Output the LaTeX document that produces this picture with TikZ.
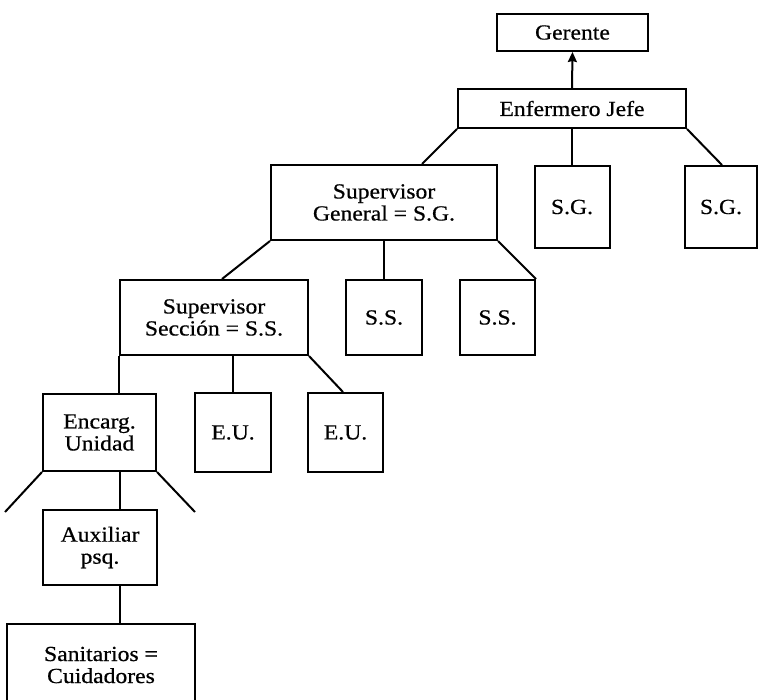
\documentclass[tikz,border=0pt]{standalone}
\usepackage{fontspec}
\setmainfont{Liberation Serif}[FakeStretch=1.1,FakeBold=0.6]
\usetikzlibrary{arrows.meta,calc}
\begin{document}
\begin{tikzpicture}[x=1pt,y=-1pt,
  box/.style={draw,line width=2pt,inner sep=0pt,align=center,
    font=\fontsize{21.5}{22}\selectfont},
  link/.style={line width=2pt}]
\useasboundingbox (0,0) rectangle (760,699);
\node[box,minimum width=151pt,minimum height=37pt] (ger) at (572.5,32.5) {Gerente};
\node[box,minimum width=228pt,minimum height=39pt] (enf) at (572,108.5) {Enfermero Jefe};
\node[box,minimum width=75pt,minimum height=82pt] (sga) at (572,207) {S.G.};
\node[box,minimum width=72pt,minimum height=82pt] (sgb) at (721,207) {S.G.};
\node[box,minimum width=226pt,minimum height=75pt] (supg) at (384,202.5) {Supervisor\\General = S.G.};
\node[box,minimum width=76pt,minimum height=75pt] (ssa) at (384,317.5) {S.S.};
\node[box,minimum width=75pt,minimum height=75pt] (ssb) at (497.5,317.5) {S.S.};
\node[box,minimum width=188pt,minimum height=75pt] (sups) at (214,317.5) {Supervisor\\Sección = S.S.};
\node[box,minimum width=76pt,minimum height=79pt] (eua) at (233,432.5) {E.U.};
\node[box,minimum width=75pt,minimum height=79pt] (eub) at (345.5,432.5) {E.U.};
\node[box,minimum width=113pt,minimum height=77pt] (enc) at (99.5,432.5) {Encarg.\\Unidad};
\node[box,minimum width=114pt,minimum height=75pt] (aux) at (100,547.5) {Auxiliar\\psq.};
\node[box,minimum width=188pt,minimum height=82pt] (san) at (101,665) {Sanitarios =\\Cuidadores};
\coordinate (fl) at (5,512);
\coordinate (fr) at (195,512);
% connectors
\draw[link,-{Stealth[length=10pt,width=9pt,inset=1pt]}] (enf.north) -- (ger.south);
\draw[link] (enf.south west) -- ([xshift=38pt]supg.north);
\draw[link] (enf.south) -- (enf.south |- sga.north);
\draw[link] (enf.south east) -- ([xshift=1pt]sgb.north);
\draw[link] (supg.south west) -- ([xshift=8pt]sups.north);
\draw[link] (supg.south) -- (ssa.north);
\draw[link] (supg.south east) -- (ssb.north east);
\draw[link] (sups.south west) -- (sups.south west |- enc.north);
\draw[link] (eua.north |- sups.south) -- (eua.north);
\draw[link] (sups.south east) -- ([xshift=-2.5pt]eub.north);
\draw[link] (enc.south west) -- (fl);
\draw[link] (enc.south east) -- (fr);
\draw[link] ([xshift=20.5pt]enc.south) -- ([xshift=20pt]aux.north);
\draw[link] ([xshift=20pt]aux.south) -- ([xshift=19pt]san.north);
\end{tikzpicture}
\end{document}
